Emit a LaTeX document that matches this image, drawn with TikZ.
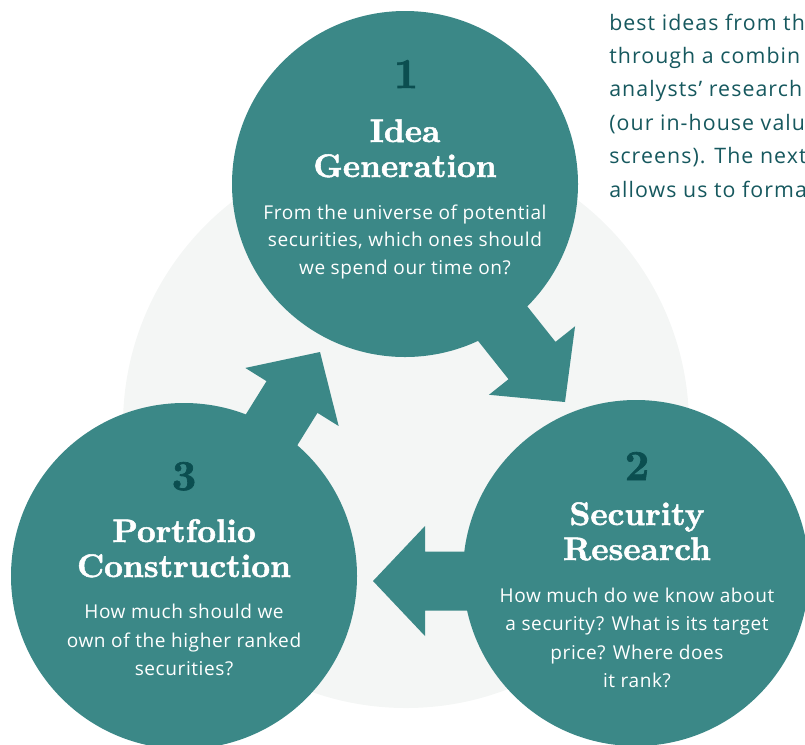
\documentclass[tikz,border=0pt]{standalone}
\usepackage{fontspec}
\newfontfamily\bodyfont{Open Sans}[LetterSpace=3]
\newfontfamily\parafont{Open Sans}[LetterSpace=5]
\newfontfamily\ttlfont{lmroman10-bold}[Extension=.otf, FakeBold=1.6]
\definecolor{tealc}{RGB}{59,136,135}
\definecolor{numcol}{RGB}{11,78,80}
\definecolor{bgc}{RGB}{244,246,245}
\definecolor{paracol}{RGB}{22,88,94}
\begin{document}
\begin{tikzpicture}[x=0.75pt,y=-0.75pt,
  disc/.style={circle, fill=tealc, inner sep=0pt, minimum size=259.5pt},
  num/.style={anchor=base, inner sep=0pt, text=numcol, font=\ttlfont\fontsize{32}{32}\selectfont},
  ttl/.style={anchor=base, inner sep=0pt, text=white, font=\ttlfont\fontsize{24.5}{26}\selectfont},
  body/.style={anchor=base, inner sep=0pt, text=white, font=\bodyfont\fontsize{14.3}{20}\selectfont},
  para/.style={anchor=base west, inner sep=0pt, text=paracol, font=\parafont\fontsize{16}{20}\selectfont},
  blockarrow/.style={fill=tealc}]
\useasboundingbox (0,0) rectangle (805,744);
\clip (0,0) rectangle (805,744);
% background disc
\fill[bgc] (406,425) circle[radius=283];
% arrow tips
\coordinate (tip12) at (565,402);
\coordinate (tip23) at (373,581);
\coordinate (tip31) at (320,352);
\begin{scope}[shift={(tip12)}, rotate=-51.5]
  \fill[blockarrow] (0,0) -- (-53,55) -- (-53,30) -- (-150,30) -- (-150,-30) -- (-53,-30) -- (-53,-55) -- cycle;
\end{scope}
\begin{scope}[shift={(tip23)}, rotate=180]
  \fill[blockarrow] (0,0) -- (-52,55) -- (-52,29.5) -- (-150,29.5) -- (-150,-29.5) -- (-52,-29.5) -- (-52,-55) -- cycle;
\end{scope}
\begin{scope}[shift={(tip31)}, rotate=58.1]
  \fill[blockarrow] (0,0) -- (-53,55) -- (-53,30) -- (-150,30) -- (-150,-30) -- (-53,-30) -- (-53,-55) -- cycle;
\end{scope}
% discs
\node[disc] (c1) at (405,184) {};
\node[disc] (c2) at (636,573) {};
\node[disc] (c3) at (184,576) {};
% circle 1
\node[num] (n1) at (406,88) {1};
\node[ttl] (t1a) at (405,142) {Idea};
\node[ttl] (t1b) at (405,177) {Generation};
\node[body] (b1a) at (405,219) {From the universe of potential};
\node[body] (b1b) at (405,246.5) {securities, which ones should};
\node[body] (b1c) at (405,274) {we spend our time on?};
% circle 2
\node[num] (n2) at (637,480) {2};
\node[ttl] (t2a) at (637,525) {Security};
\node[ttl] (t2b) at (637,560) {Research};
\node[body] (b2a) at (637,602) {How much do we know about};
\node[body] (b2b) at (637,630) {a security? What is its target};
\node[body] (b2c) at (637,659) {price? Where does};
\node[body] (b2d) at (637,687) {it rank?};
% circle 3
\node[num] (n3) at (184,490) {3};
\node[ttl] (t3a) at (184,542) {Portfolio};
\node[ttl] (t3b) at (184,577) {Construction};
\node[body] (b3a) at (184,618) {How much should we};
\node[body] (b3b) at (184,647) {own of the higher ranked};
\node[body] (b3c) at (184,675) {securities?};
% paragraph at top right
\node[para] (p1) at (609,30) {best ideas from th};
\node[para] (p2) at (609,63.4) {through a combin};
\node[para] (p3) at (609,96.8) {analysts’ research};
\node[para] (p4) at (609,130.2) {(our in-house valu};
\node[para] (p5) at (609,163.6) {screens). The next};
\node[para] (p6) at (609,197) {allows us to forma};
\end{tikzpicture}
\end{document}
